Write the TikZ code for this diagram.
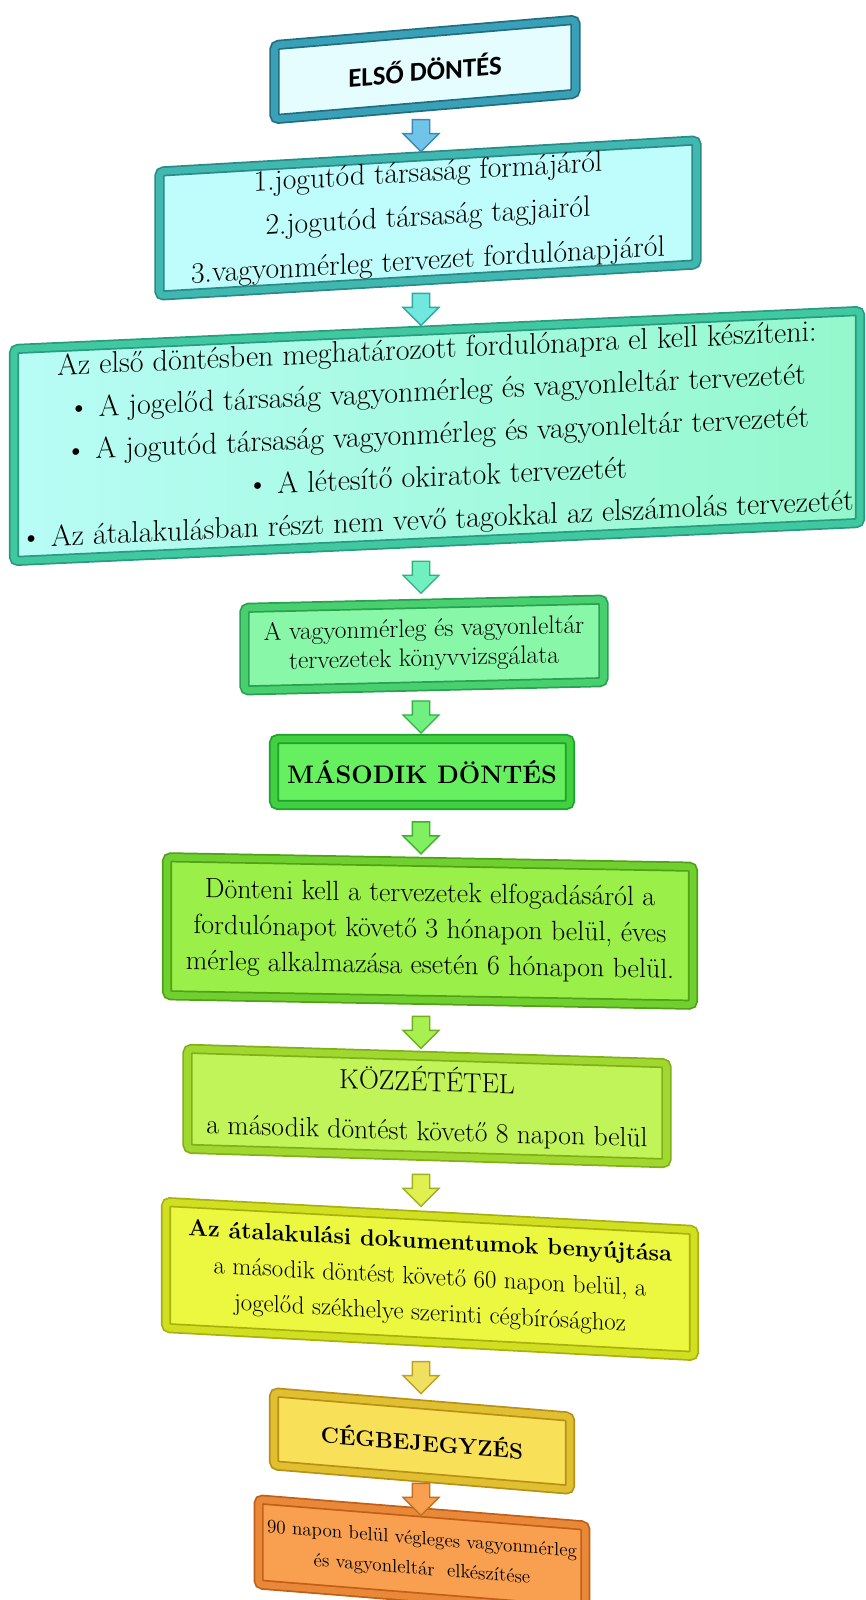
\documentclass[tikz,border=0pt]{standalone}
\usepackage{fontspec}
\newfontfamily\calibri{Carlito}
\usetikzlibrary{shapes.arrows,shadows}
% box colours: dark edge, bevel band, fill
\definecolor{bAd}{HTML}{1F6F80}\definecolor{bAm}{HTML}{3AA0B8}\definecolor{bAf}{HTML}{E6FDFF}
\definecolor{bBd}{HTML}{2A8A8A}\definecolor{bBm}{HTML}{40B8B0}\definecolor{bBf}{HTML}{BFFCFC}
\definecolor{bCd}{HTML}{2A9A80}\definecolor{bCm}{HTML}{40C8A0}\definecolor{bCf}{HTML}{A8FCE0}
\definecolor{bCl}{HTML}{B8FCF6}\definecolor{bCr}{HTML}{94F8CC}
\definecolor{bDd}{HTML}{2AA050}\definecolor{bDm}{HTML}{48D070}\definecolor{bDf}{HTML}{88F8A8}
\definecolor{bEd}{HTML}{20A030}\definecolor{bEm}{HTML}{40D040}\definecolor{bEf}{HTML}{66F060}
\definecolor{bFd}{HTML}{50A018}\definecolor{bFm}{HTML}{70D030}\definecolor{bFf}{HTML}{9AF048}
\definecolor{bGd}{HTML}{80B018}\definecolor{bGm}{HTML}{A0D830}\definecolor{bGf}{HTML}{C0F458}
\definecolor{bHd}{HTML}{A8B010}\definecolor{bHm}{HTML}{D0E020}\definecolor{bHf}{HTML}{ECF840}
\definecolor{bId}{HTML}{B89018}\definecolor{bIm}{HTML}{E0C030}\definecolor{bIf}{HTML}{F8E058}
\definecolor{bJd}{HTML}{C06018}\definecolor{bJm}{HTML}{E88838}\definecolor{bJf}{HTML}{F8A050}
% arrow colours: edge, fill
\definecolor{aAd}{HTML}{3A8AB8}\definecolor{aAf}{HTML}{70C4E8}
\definecolor{aBd}{HTML}{30A8A0}\definecolor{aBf}{HTML}{70E8E0}
\definecolor{aCd}{HTML}{30B080}\definecolor{aCf}{HTML}{70F0C0}
\definecolor{aDd}{HTML}{30B040}\definecolor{aDf}{HTML}{70F080}
\definecolor{aEd}{HTML}{40B030}\definecolor{aEf}{HTML}{80F060}
\definecolor{aFd}{HTML}{70B020}\definecolor{aFf}{HTML}{A8F050}
\definecolor{aGd}{HTML}{A0B020}\definecolor{aGf}{HTML}{E0F050}
\definecolor{aHd}{HTML}{C0A020}\definecolor{aHf}{HTML}{F0E060}
\definecolor{aId}{HTML}{C07020}\definecolor{aIf}{HTML}{F8A050}
\tikzset{
  flowbox/.style n args={3}{draw=#1, double=#2, fill=#3, line width=1.3pt,
    double distance=5pt, rounded corners=3pt, inner sep=0pt, align=center,
    transform shape, text=black,
    drop shadow={shadow xshift=2pt, shadow yshift=-3pt, opacity=0.3}},
  downarrow/.style 2 args={single arrow, shape border rotate=270, draw=#1,
    fill=#2, line width=1pt, minimum height=24pt, inner sep=6pt,
    single arrow head extend=7pt},
}
\begin{document}
\begin{tikzpicture}[x=0.75pt,y=-0.75pt]
\useasboundingbox (0,0) rectangle (866,1600);
\clip (0,0) rectangle (866,1600);
\fill[white] (0,0) rectangle (866,1600);
\coordinate (axis) at (421,0);

\begin{scope}[shift={(425,69.5)}, yslant=0.084]
\node[flowbox={bAd}{bAm}{bAf}, minimum width=225.75pt, minimum height=55.5pt,
  font=\calibri\bfseries\fontsize{20.2}{24}\selectfont] (b1) {ELSŐ DÖNTÉS};
\end{scope}

\begin{scope}[shift={(428,218)}, yslant=0.058]
\node[flowbox={bBd}{bBm}{bBf}, minimum width=402.75pt, minimum height=93pt,
  font=\fontsize{22.2}{33}\selectfont] (b2)
  {1.jogutód társaság formájáról\\2.jogutód társaság tagjairól\\3.vagyonmérleg tervezet fordulónapjáról};
\end{scope}

\begin{scope}[shift={(437,436)}, yslant=0.045]
\node[flowbox={bCd}{bCm}{bCf}, left color=bCl, right color=bCr,
  minimum width=634.5pt, minimum height=159pt,
  font=\fontsize{22.5}{32}\selectfont] (b3)
  {Az első döntésben meghatározott fordulónapra el kell készíteni:\\
   \textbullet\ A jogelőd társaság vagyonmérleg és vagyonleltár tervezetét\\
   \textbullet\ A jogutód társaság vagyonmérleg és vagyonleltár tervezetét\\
   \textbullet\ A létesítő okiratok tervezetét\\
   \textbullet\ Az átalakulásban részt nem vevő tagokkal az elszámolás tervezetét};
\end{scope}

\begin{scope}[shift={(424,645)}, yslant=0.023]
\node[flowbox={bDd}{bDm}{bDf}, minimum width=269.25pt, minimum height=61.9pt,
  font=\fontsize{19}{22}\selectfont] (b4)
  {A vagyonmérleg és vagyonleltár\\tervezetek könyvvizsgálata};
\end{scope}

\begin{scope}[shift={(422,772)}]
\node[flowbox={bEd}{bEm}{bEf}, minimum width=222pt, minimum height=49.5pt,
  font=\bfseries\fontsize{19}{23}\selectfont] (b5) {MÁSODIK DÖNTÉS};
\end{scope}

\begin{scope}[shift={(430,931)}, yslant=-0.018]
\node[flowbox={bFd}{bFm}{bFf}, minimum width=394.5pt, minimum height=103.5pt,
  font=\fontsize{20.9}{27}\selectfont] (b6)
  {Dönteni kell a tervezetek elfogadásáról a\\fordulónapot követő 3 hónapon belül, éves\\mérleg alkalmazása esetén 6 hónapon belül.};
\end{scope}

\begin{scope}[shift={(427,1106)}, yslant=-0.03]
\node[flowbox={bGd}{bGm}{bGf}, minimum width=359.25pt, minimum height=75pt,
  font=\fontsize{20.7}{37}\selectfont] (b7)
  {KÖZZÉTÉTEL\\a második döntést követő 8 napon belül};
\end{scope}

\begin{scope}[shift={(430,1279)}, yslant=-0.053]
\node[flowbox={bHd}{bHm}{bHf}, minimum width=396pt, minimum height=94.5pt,
  font=\fontsize{18.6}{27}\selectfont] (b8)
  {{\bfseries\fontsize{17.6}{27}\selectfont Az átalakulási dokumentumok benyújtása}\\a második döntést követő 60 napon belül, a\\jogelőd székhelye szerinti cégbírósághoz};
\end{scope}

\begin{scope}[shift={(422,1441)}, yslant=-0.082]
\node[flowbox={bId}{bIm}{bIf}, minimum width=222pt, minimum height=54.75pt,
  font=\bfseries\fontsize{16.7}{20}\selectfont] (b9) {CÉGBEJEGYZÉS};
\end{scope}

\begin{scope}[shift={(422,1555)}, yslant=-0.08]
\node[flowbox={bJd}{bJm}{bJf}, minimum width=245pt, minimum height=63.75pt,
  font=\fontsize{14.3}{22.5}\selectfont] (b10)
  {90 napon belül végleges vagyonmérleg\\és vagyonleltár~ elkészítése};
\end{scope}

\path (b1.south -| axis) -- (b2.north -| axis) node[midway, downarrow={aAd}{aAf}] (a1) {};
\path (b2.south -| axis) -- (b3.north -| axis) node[midway, downarrow={aBd}{aBf}] (a2) {};
\path (b3.south -| axis) -- (b4.north -| axis) node[midway, downarrow={aCd}{aCf}] (a3) {};
\path (b4.south -| axis) -- (b5.north -| axis) node[midway, downarrow={aDd}{aDf}] (a4) {};
\path (b5.south -| axis) -- (b6.north -| axis) node[midway, downarrow={aEd}{aEf}] (a5) {};
\path (b6.south -| axis) -- (b7.north -| axis) node[midway, downarrow={aFd}{aFf}] (a6) {};
\path (b7.south -| axis) -- (b8.north -| axis) node[midway, downarrow={aGd}{aGf}] (a7) {};
\path (b8.south -| axis) -- (b9.north -| axis) node[midway, downarrow={aHd}{aHf}] (a8) {};
\path (b9.south -| axis) -- (b10.north -| axis) node[midway, downarrow={aId}{aIf}] (a9) {};
\end{tikzpicture}
\end{document}
